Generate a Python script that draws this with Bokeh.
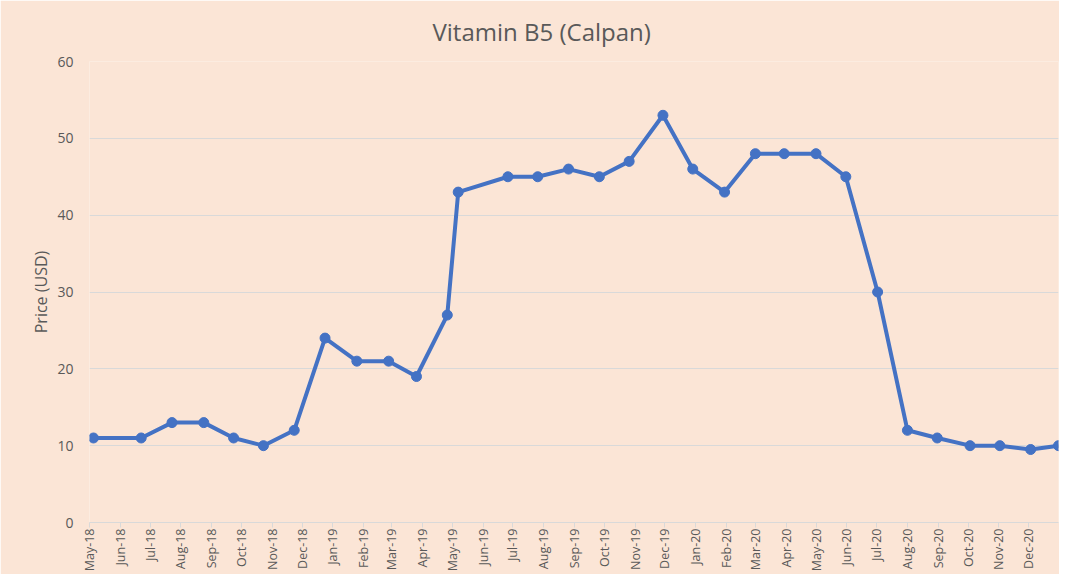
import math
import pandas as pd
from bokeh.plotting import figure
from bokeh.models import ColumnDataSource, DatetimeTickFormatter, MonthsTicker, Range1d, SingleIntervalTicker
from bokeh.embed import file_html
from bokeh.resources import INLINE

# ---- data ----
dates = [
    "2018-05-05", "2018-06-22", "2018-07-23", "2018-08-24", "2018-09-23", "2018-10-23",
    "2018-11-23", "2018-12-24", "2019-01-25", "2019-02-26", "2019-03-26", "2019-04-26",
    "2019-05-07", "2019-06-26", "2019-07-26", "2019-08-26", "2019-09-26", "2019-10-26",
    "2019-11-29", "2019-12-29", "2020-01-30", "2020-03-01", "2020-03-30", "2020-05-01",
    "2020-05-31", "2020-07-02", "2020-08-01", "2020-08-31", "2020-10-03", "2020-11-02",
    "2020-12-03", "2020-12-31",
]
prices = [
    11, 11, 13, 13, 11, 10,
    12, 24, 21, 21, 19, 27,
    43, 45, 45, 46, 45, 47,
    53, 46, 43, 48, 48, 48,
    45, 30, 12, 11, 10, 10,
    9.5, 10,
]
title_text = "Vitamin B5 (Calpan)"
y_label = "Price (USD)"

BG = "#FBE5D6"
TXT = "#595959"
GRID = "#D9D9D9"
LINE = "#4472C4"
FONT = "Open Sans"

src = ColumnDataSource(dict(x=pd.to_datetime(dates), y=prices))

p = figure(
    width=1059, height=574,
    x_axis_type="datetime",
    x_range=Range1d(pd.Timestamp("2018-05-01"), pd.Timestamp("2020-12-31")),
    y_range=Range1d(0, 60),
    output_backend="svg", toolbar_location=None,
    min_border_left=89, min_border_right=1, min_border_top=61, min_border_bottom=52,
    background_fill_color=BG, border_fill_color=BG,
)
p.outline_line_color = None

p.title.text = title_text
p.title.align = "left"
p.title.offset = 343
p.title.text_font = FONT
p.title.text_font_size = "24px"
p.title.text_font_style = "normal"
p.title.text_color = TXT
p.title.standoff = 24
p.title.vertical_align = "top"

p.line("x", "y", source=src, line_color=LINE, line_width=4)
p.scatter("x", "y", source=src, size=10, fill_color=LINE, line_color=LINE)

# x axis
xa = p.xaxis[0]
xa.ticker = MonthsTicker(months=list(range(12)))
xa.formatter = DatetimeTickFormatter(months="%b-%y", days="%b-%y", years="%b-%y")
xa.major_label_orientation = math.pi / 2
xa.major_label_text_font = FONT
xa.major_label_text_font_size = "12.5px"
xa.major_label_text_color = TXT
xa.axis_line_color = GRID
xa.major_tick_line_color = GRID
xa.major_tick_out = 5
xa.major_tick_in = 0
xa.minor_tick_line_color = None
xa.major_label_standoff = 1

# y axis
ya = p.yaxis[0]
ya.ticker = SingleIntervalTicker(interval=10)
ya.axis_line_color = None
ya.major_tick_line_color = None
ya.minor_tick_line_color = None
ya.major_label_text_font = FONT
ya.major_label_text_font_size = "14px"
ya.major_label_text_color = TXT
ya.major_label_standoff = 10
ya.axis_label = y_label
ya.axis_label_text_font = FONT
ya.axis_label_text_font_size = "16px"
ya.axis_label_text_font_style = "normal"
ya.axis_label_text_color = TXT
ya.axis_label_standoff = 2

p.xgrid.grid_line_color = None
p.ygrid.grid_line_color = GRID
p.ygrid.grid_line_width = 1

open("out.html", "w").write(file_html(p, INLINE))
